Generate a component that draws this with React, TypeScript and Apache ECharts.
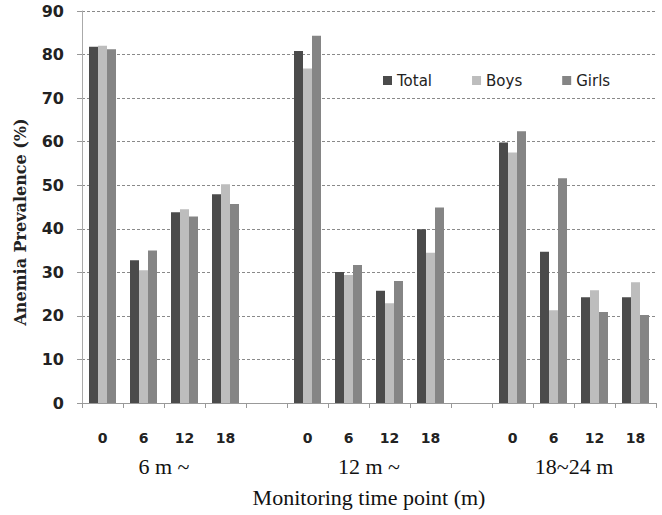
import React, { useEffect, useRef } from "react";
import * as echarts from "echarts";

const categories = ["0", "6", "12", "18", "", "0", "6", "12", "18", "", "0", "6", "12", "18"];
const total = [81.8, 32.8, 43.8, 47.9, null, 80.8, 30.1, 25.8, 39.9, null, 59.8, 34.7, 24.3, 24.3];
const boys = [82.0, 30.5, 44.5, 50.2, null, 76.8, 29.4, 22.9, 34.5, null, 57.5, 21.3, 25.9, 27.7];
const girls = [81.2, 35.0, 42.8, 45.7, null, 84.3, 31.7, 28.0, 44.9, null, 62.4, 51.6, 20.9, 20.2];
const groupLabels = ["6 m ~", "12 m ~", "18~24 m"];
const groupCenters = [2, 7, 12];
const seriesNames = ["Total", "Boys", "Girls"];
const colors = ["#4b4b4b", "#bdbdbd", "#858585"];

export default function App() {
  const ref = useRef<HTMLDivElement>(null);
  useEffect(() => {
    if (!ref.current) return;
    const chart = echarts.init(ref.current, null, { renderer: "svg" });
    const values = [total, boys, girls];
    chart.setOption({
      animation: false,
      backgroundColor: "#ffffff",
      color: colors,
      grid: { left: 82, right: 6, top: 11, bottom: 112, containLabel: false },
      legend: {
        data: seriesNames,
        left: 378,
        top: 68,
        icon: "rect",
        itemWidth: 9,
        itemHeight: 9,
        itemGap: 40,
        textStyle: { fontFamily: "DejaVu Sans", fontSize: 15, color: "#222" },
      },
      xAxis: [
        {
          type: "category",
          data: categories,
          axisLine: { show: true, lineStyle: { color: "#999", width: 1 } },
          axisTick: { show: true, length: 5, lineStyle: { color: "#999" } },
          axisLabel: {
            interval: 0,
            margin: 28,
            fontFamily: "DejaVu Sans",
            fontWeight: "bold",
            fontSize: 14,
            color: "#222",
          },
          splitLine: { show: false },
        },
        {
          type: "value",
          min: 0,
          max: 14,
          position: "bottom",
          axisLine: { show: false },
          axisTick: { show: false },
          splitLine: { show: false },
          axisLabel: {
            customValues: groupCenters,
            formatter: (v: number) => {
              const i = groupCenters.indexOf(v);
              return i >= 0 ? groupLabels[i] : "";
            },
            margin: 52,
            fontFamily: "Liberation Serif",
            fontSize: 22,
            color: "#111",
          },
          name: "Monitoring time point (m)",
          nameLocation: "middle",
          nameGap: 83,
          nameTextStyle: { fontFamily: "Liberation Serif", fontSize: 22, color: "#111" },
        },
      ],
      yAxis: {
        type: "value",
        min: 0,
        max: 90,
        interval: 10,
        axisLine: { show: true, lineStyle: { color: "#aaa" } },
        axisTick: { show: true, length: 5, lineStyle: { color: "#999" } },
        axisLabel: {
          margin: 18,
          fontFamily: "DejaVu Sans",
          fontWeight: "bold",
          fontSize: 16,
          color: "#222",
        },
        splitLine: { show: true, lineStyle: { color: "#8a8a8a", type: [3, 2], width: 1 } },
      },
      graphic: [
        {
          type: "text",
          x: 20,
          y: 222,
          rotation: Math.PI / 2,
          style: {
            text: "Anemia Prevalence (%)",
            fontFamily: "DejaVu Serif",
            fontWeight: "bold",
            fontSize: 16,
            fill: "#222",
            align: "center",
            verticalAlign: "middle",
          },
        },
      ],
      series: seriesNames.map((name, i) => ({
        name,
        type: "bar",
        xAxisIndex: 0,
        data: values[i],
        barWidth: 9,
        barGap: "0%",
        itemStyle: { color: colors[i] },
      })),
    });
    return () => chart.dispose();
  }, []);
  return (
    <div
      ref={ref}
      style={{ position: "fixed", left: 0, top: 0, width: 662, height: 515, background: "#fff" }}
    />
  );
}
